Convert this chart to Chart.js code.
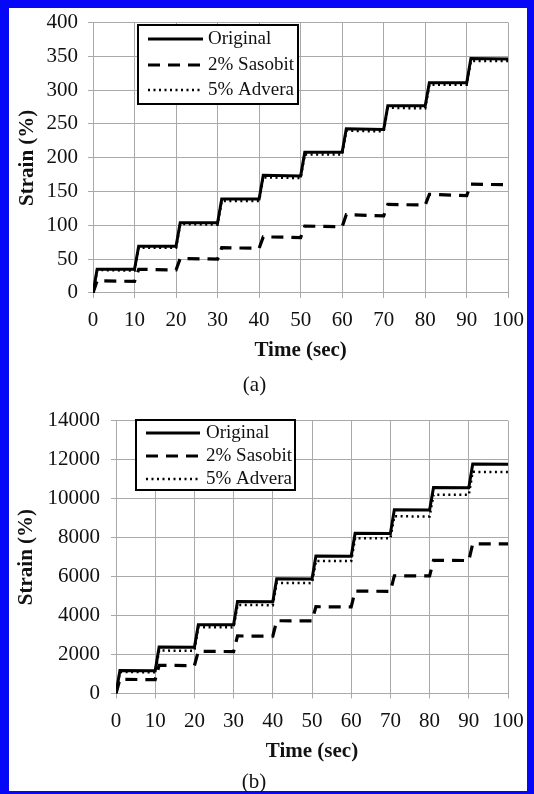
<!DOCTYPE html>
<html>
<head>
<meta charset="utf-8">
<script src="https://cdn.jsdelivr.net/npm/chart.js@4.4.1/dist/chart.umd.min.js"></script>
<style>
  body { margin: 0; background: #fff; }
  #frame {
    position: absolute; left: 0; top: 0; width: 534px; height: 794px;
    box-sizing: border-box; border-style: solid; border-color: #0707f7;
    border-width: 8px 7px 3px 9px;
  }
  canvas { position: absolute; left: 0; }
  #chartA { top: 0; }
  #chartB { top: 397px; }
</style>
</head>
<body>
<div id="frame"></div>
<canvas id="chartA" width="534" height="397"></canvas>
<canvas id="chartB" width="534" height="397"></canvas>
<script>
// series names and time points (load 1 s, rest 9 s per cycle)
var seriesNames = ["Original", "2% Sasobit", "5% Advera"];
var timeSec = [0, 1, 10, 11, 20, 21, 30, 31, 40, 41, 50, 51, 60, 61, 70, 71, 80, 81, 90, 91, 100];
var xTickValues = [0, 10, 20, 30, 40, 50, 60, 70, 80, 90, 100];

// (a) strain in %
var originalA = [0, 35, 35, 69, 69, 104, 104, 139, 139, 174, 173, 208, 208, 243, 242, 277, 277, 311, 311, 347, 346];
var sasobitA = [0, 18, 17, 35, 34, 51, 50, 67, 66, 83, 82, 99, 98, 116, 114, 131, 130, 146, 144, 161, 160];
var adveraA = [0, 34, 33, 67, 67, 102, 101, 136, 136, 171, 170, 205, 205, 240, 239, 274, 273, 308, 308, 343, 343];
var yTicksA = [0, 50, 100, 150, 200, 250, 300, 350, 400];

// (b) strain in %
var originalB = [0, 1180, 1170, 2380, 2370, 3530, 3520, 4720, 4710, 5880, 5870, 7050, 7040, 8220, 8210, 9420, 9410, 10570, 10560, 11770, 11760];
var sasobitB = [0, 720, 710, 1440, 1430, 2160, 2150, 2950, 2940, 3730, 3720, 4450, 4440, 5250, 5240, 6040, 6030, 6830, 6820, 7680, 7670];
var adveraB = [0, 1100, 1090, 2200, 2190, 3400, 3390, 4540, 4530, 5670, 5660, 6800, 6790, 7970, 7960, 9090, 9080, 10200, 10190, 11370, 11360];
var yTicksB = [0, 2000, 4000, 6000, 8000, 10000, 12000, 14000];

var serif = "'Liberation Serif', 'Times New Roman', serif";
var gridGray = '#a9a9a9';
var lineStyles = [
    { width: 3, dash: [] },
    { width: 3.2, dash: [12, 8] },
    { width: 2.5, dash: [2, 3.5] }
];

// legend drawn as a boxed key inside the plot
var boxLegendPlugin = {
    id: 'boxLegend',
    afterDatasetsDraw: function (chart, args, opts) {
        var c = chart.ctx;
        c.save();
        c.fillStyle = '#fff';
        c.fillRect(opts.x, opts.y, opts.w, opts.h);
        c.lineWidth = 2;
        c.strokeStyle = '#000';
        c.strokeRect(opts.x, opts.y, opts.w, opts.h);
        chart.data.datasets.forEach(function (ds, i) {
            var y = opts.y + opts.rows[i];
            c.setLineDash(ds.borderDash);
            c.lineWidth = ds.borderWidth;
            c.beginPath();
            c.moveTo(opts.x0, y);
            c.lineTo(opts.x1, y);
            c.stroke();
            c.setLineDash([]);
            c.fillStyle = '#111';
            c.font = opts.fontSize + 'px ' + serif;
            c.textBaseline = 'middle';
            c.fillText(ds.label, opts.textX, y);
        });
        c.restore();
    }
};

function tickSetter(values) {
    return function (axis) {
        axis.ticks = values.map(function (v) { return { value: v }; });
    };
}

function plainNumber(value) {
    return String(value);
}

function makeChart(id, series, yTicks, box) {
    var datasets = series.map(function (values, i) {
        return {
            label: seriesNames[i],
            data: timeSec.map(function (t, k) { return { x: t, y: values[k] }; }),
            borderColor: '#000',
            borderWidth: lineStyles[i].width,
            borderDash: lineStyles[i].dash,
            borderCapStyle: 'butt',
            pointRadius: 0,
            tension: 0,
            fill: false
        };
    });
    return new Chart(document.getElementById(id), {
        type: 'line',
        data: { datasets: datasets },
        options: {
            responsive: false,
            animation: false,
            devicePixelRatio: 1,
            layout: { padding: { top: box.top, right: box.right, left: 0, bottom: 0 } },
            plugins: {
                legend: { display: false },
                tooltip: { enabled: false },
                title: {
                    display: true, position: 'bottom', text: box.caption, color: '#111',
                    font: { family: serif, size: 21, weight: 'normal', lineHeight: 1.05 },
                    padding: { top: 0, bottom: 0 }
                },
                boxLegend: box.legend
            },
            scales: {
                x: {
                    type: 'linear', min: 0, max: 100,
                    afterBuildTicks: tickSetter(xTickValues),
                    afterFit: function (s) { s.height = box.xAxisH; },
                    grid: { color: gridGray, lineWidth: 1, tickLength: 5, tickColor: gridGray },
                    border: { color: gridGray },
                    ticks: { color: '#111', padding: box.xPad, callback: plainNumber, font: { family: serif, size: 21 } },
                    title: {
                        display: true, text: 'Time (sec)', color: '#111',
                        font: { family: serif, size: 21, weight: 'bold' },
                        padding: { top: 0, bottom: box.xTitlePad }
                    }
                },
                y: {
                    type: 'linear', min: yTicks[0], max: yTicks[yTicks.length - 1],
                    afterBuildTicks: tickSetter(yTicks),
                    afterFit: function (s) { s.width = box.yAxisW; },
                    grid: { color: gridGray, lineWidth: 1, tickLength: 5, tickColor: gridGray },
                    border: { color: gridGray },
                    ticks: { color: '#111', padding: box.yPad, callback: plainNumber, font: { family: serif, size: 21 } },
                    title: {
                        display: true, text: 'Strain (%)', color: '#111',
                        font: { family: serif, size: 21, weight: 'bold' },
                        padding: { top: box.yTitlePad, bottom: 0 }
                    }
                }
            }
        },
        plugins: [boxLegendPlugin]
    });
}

makeChart('chartA', [originalA, sasobitA, adveraA], yTicksA, {
    top: 18, right: 25, yAxisW: 93, xAxisH: 82, xPad: 10, xTitlePad: 12, yTitlePad: 15, yPad: 10,
    caption: '(a)',
    legend: { x: 138, y: 25, w: 160, h: 79, rows: [14, 40, 65], x0: 148, x1: 203, textX: 208, fontSize: 19 }
});

makeChart('chartB', [originalB, sasobitB, adveraB], yTicksB, {
    top: 18, right: 26, yAxisW: 116, xAxisH: 78.5, xPad: 10, xTitlePad: 8, yTitlePad: 14, yPad: 11,
    caption: '(b)',
    legend: { x: 136, y: 23, w: 159, h: 70, rows: [13, 36, 59], x0: 146, x1: 200, textX: 206, fontSize: 19 }
});
</script>
</body>
</html>
